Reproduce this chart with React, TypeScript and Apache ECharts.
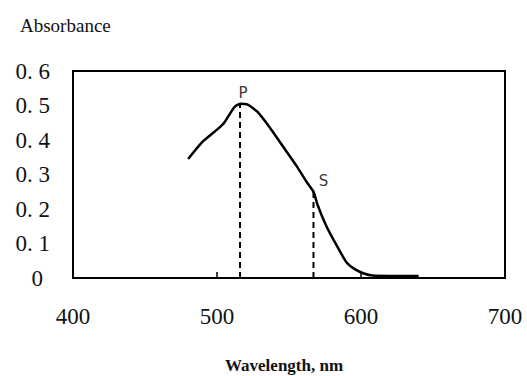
import React, { useEffect, useRef } from "react";
import * as echarts from "echarts";

const wavelengths = [480, 490, 500, 505, 512, 516, 521, 528, 537, 548, 556, 562, 567, 570, 576, 583, 590, 596, 602, 608, 620, 640];
const absorbance = [0.345, 0.395, 0.43, 0.45, 0.495, 0.505, 0.503, 0.482, 0.434, 0.368, 0.32, 0.28, 0.25, 0.21, 0.15, 0.095, 0.045, 0.025, 0.013, 0.007, 0.006, 0.006];
const pointP = [516, 0.505];
const pointS = [567, 0.25];
const yTickLabels = ["0", "0. 1", "0. 2", "0. 3", "0. 4", "0. 5", "0. 6"];
const xTickLabels = ["400", "500", "600", "700"];

const SERIF = "'Liberation Serif', 'Times New Roman', serif";

export default function App() {
  const ref = useRef<HTMLDivElement>(null);
  useEffect(() => {
    if (!ref.current) return;
    const chart = echarts.init(ref.current, null, { renderer: "svg" });
    const dash = { color: "#000", width: 2, type: [6, 4] as any };
    chart.setOption({
      animation: false,
      backgroundColor: "#fff",
      title: [
        { text: "Absorbance", left: 15, top: 11, textStyle: { fontFamily: SERIF, fontSize: 19, fontWeight: "normal", color: "#111" } },
        { text: "Wavelength, nm", left: 220, top: 352, textStyle: { fontFamily: SERIF, fontSize: 17, fontWeight: "bold", color: "#111" } },
      ],
      grid: { left: 73, top: 71, width: 432, height: 207, show: true, borderColor: "#000", borderWidth: 2, backgroundColor: "transparent" },
      xAxis: {
        type: "value", min: 400, max: 700, interval: 100,
        axisLine: { show: false },
        axisTick: { show: true, inside: true, length: 6, lineStyle: { color: "#000", width: 1.5 } },
        splitLine: { show: false },
        axisLabel: { margin: 27, fontFamily: SERIF, fontSize: 23, color: "#111", formatter: (v: number) => xTickLabels[Math.round((v - 400) / 100)] },
      },
      yAxis: {
        type: "value", min: 0, max: 0.6, interval: 0.1,
        axisLine: { show: false },
        axisTick: { show: false },
        splitLine: { show: false },
        axisLabel: {
          margin: 23, fontFamily: SERIF, fontSize: 23, color: "#111",
          formatter: (v: number) => { const i = Math.round(v * 10); return i === 0 ? "{z|0}" : yTickLabels[i]; },
          rich: { z: { fontFamily: SERIF, fontSize: 23, color: "#111", padding: [0, 7, 0, 0] } },
        },
      },
      series: [
        {
          type: "line", data: wavelengths.map((w, i) => [w, absorbance[i]]), smooth: 0.18,
          symbol: "none", lineStyle: { color: "#000", width: 2.5 },
        },
        { type: "line", data: [[pointP[0], 0], pointP], symbol: "none", lineStyle: dash },
        { type: "line", data: [[pointS[0], 0], pointS], symbol: "none", lineStyle: dash },
        {
          type: "scatter", symbolSize: 0,
          data: [
            { value: pointP, label: { show: true, formatter: "P", offset: [3, -11] } },
            { value: pointS, label: { show: true, formatter: "S", offset: [10, -11] } },
          ],
          label: { position: "inside", fontFamily: "'DejaVu Sans', sans-serif", fontSize: 15, color: "#000" },
        },
      ],
    });
    return () => chart.dispose();
  }, []);
  return <div ref={ref} style={{ width: 527, height: 376, position: "absolute", left: 0, top: 0 }} />;
}
